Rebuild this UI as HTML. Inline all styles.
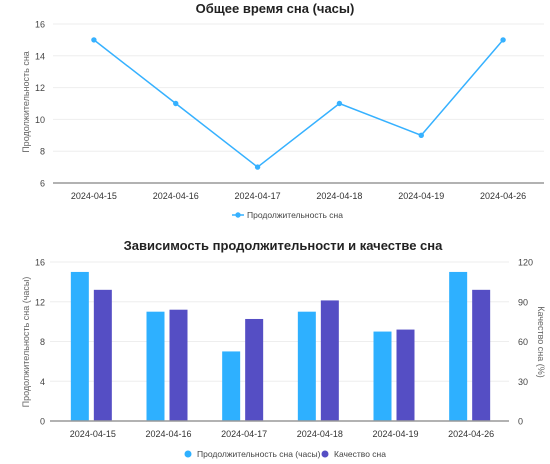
<!DOCTYPE html>
<html><head><meta charset="utf-8"><style>
body{margin:0;background:#fff;font-family:"Liberation Sans",sans-serif}
svg text{font-family:"Liberation Sans",sans-serif}
</style></head><body>
<svg id="s" width="550" height="459" xmlns="http://www.w3.org/2000/svg"></svg>
<script>
const categories=["2024-04-15","2024-04-16","2024-04-17","2024-04-18","2024-04-19","2024-04-26"];
const durationLine=[15,11,7,11,9,15];
const durationBars=[15,11,7,11,9,15];
const qualityBars=[99,84,77,91,69,99];
const ticks1=[6,8,10,12,14,16];
const ticksL=[0,4,8,12,16];
const ticksR=[0,30,60,90,120];
const NS="http://www.w3.org/2000/svg";
const s=document.getElementById('s');
function el(t,a,txt){const e=document.createElementNS(NS,t);for(const k in a)e.setAttribute(k,a[k]);if(txt!=null)e.textContent=txt;s.appendChild(e);return e;}
// chart 1
const c1={x0:53,x1:544,y0:183,y1:24,min:6,max:16};
const band1=(c1.x1-c1.x0)/categories.length;
const X1=i=>c1.x0+band1*(i+.5);
const Y1=v=>c1.y0-(v-c1.min)/(c1.max-c1.min)*(c1.y0-c1.y1);
let t=el('text',{x:275,y:13,'text-anchor':'middle','font-size':13,'font-weight':'bold',fill:'#222'},'Общее время сна (часы)');


ticks1.forEach(v=>{
 const g=el('line',{x1:c1.x0,x2:c1.x1,y1:Y1(v),y2:Y1(v),stroke:v===c1.min?'#999':'#eee','stroke-width':v===c1.min?1.5:1});
 
 
 const l=el('text',{x:45,y:Y1(v)+3.5,'text-anchor':'end','font-size':9,fill:'#444'},v);
 
 
});
t=el('text',{x:0,y:0,transform:'translate(29,102) rotate(-90)','text-anchor':'middle','font-size':9,fill:'#666'},'Продолжительность сна');


categories.forEach((c,i)=>{
 const l=el('text',{x:X1(i),y:199,'text-anchor':'middle','font-size':9,fill:'#333'},c);
 
 
});
const p=el('polyline',{points:durationLine.map((v,i)=>X1(i)+','+Y1(v)).join(' '),fill:'none',stroke:'#36b1ff','stroke-width':1.5});


durationLine.forEach((v,i)=>{
 const c=el('circle',{cx:X1(i),cy:Y1(v),r:2.7,fill:'#36b1ff'});
 
 
});
el('line',{x1:232,x2:244,y1:215,y2:215,stroke:'#36b1ff','stroke-width':1.5});
el('circle',{cx:238,cy:215,r:2.7,fill:'#36b1ff'});
t=el('text',{x:247,y:218,'font-size':8.5,fill:'#444'},'Продолжительность сна');


// chart 2
const c2={x0:55,x1:509,y0:421,y1:262};
const band2=(c2.x1-c2.x0)/categories.length;
const X2=i=>c2.x0+band2*(i+.5);
const YL=v=>c2.y0-v/16*(c2.y0-c2.y1);
const YR=v=>c2.y0-v/120*(c2.y0-c2.y1);
t=el('text',{x:283,y:250,'text-anchor':'middle','font-size':13,'font-weight':'bold',fill:'#222'},'Зависимость продолжительности и качестве сна');


ticksL.forEach((v,i)=>{
 const g=el('line',{x1:c2.x0-5,x2:c2.x1,y1:YL(v),y2:YL(v),stroke:'#eee'});
 
 
 const l=el('text',{x:45,y:YL(v)+3.5,'text-anchor':'end','font-size':9,fill:'#444'},v);
 
 
 const r=el('text',{x:518,y:YR(ticksR[i])+3.5,'font-size':9,fill:'#444'},ticksR[i]);
 
 
});
t=el('text',{x:0,y:0,transform:'translate(29,342) rotate(-90)','text-anchor':'middle','font-size':9,fill:'#666'},'Продолжительность сна (часы)');


t=el('text',{x:0,y:0,transform:'translate(538,342) rotate(90)','text-anchor':'middle','font-size':9,fill:'#666'},'Качество сна (%)');


categories.forEach((c,i)=>{
 const b=el('rect',{x:X2(i)-22,y:YL(durationBars[i]),width:18,height:c2.y0-YL(durationBars[i]),fill:'#2eb0ff'});
 
 
 const q=el('rect',{x:X2(i)+1,y:YR(qualityBars[i]),width:18,height:c2.y0-YR(qualityBars[i]),fill:'#554ec4'});
 
 
 const l=el('text',{x:X2(i),y:437,'text-anchor':'middle','font-size':9,fill:'#333'},c);
 
 
});
el('line',{x1:c2.x0-5,x2:c2.x1,y1:c2.y0,y2:c2.y0,stroke:'#999','stroke-width':1.5});
el('circle',{cx:188,cy:454,r:3.5,fill:'#2eb0ff'});
t=el('text',{x:197,y:457,'font-size':8.5,fill:'#444'},'Продолжительность сна (часы)');


el('circle',{cx:325,cy:454,r:3.5,fill:'#554ec4'});
t=el('text',{x:334,y:457,'font-size':8.5,fill:'#444'},'Качество сна');


</script>
</body></html>
